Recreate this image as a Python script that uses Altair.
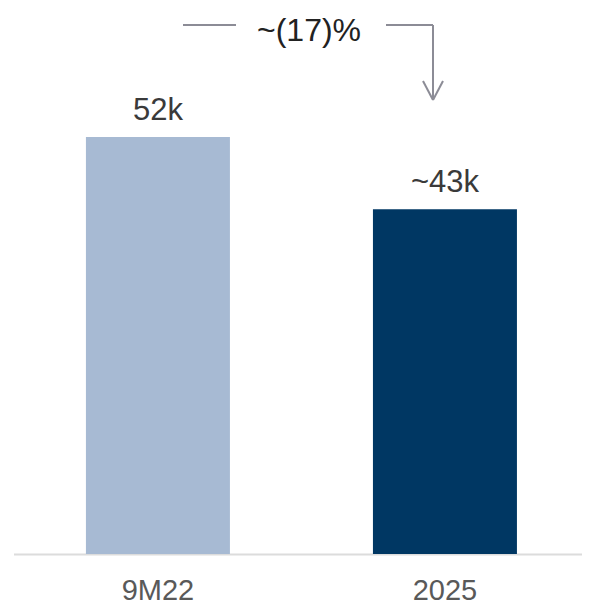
import altair as alt
import pandas as pd

categories = ["9M22", "2025"]
values = [52, 43]
value_labels = ["52k", "~43k"]
bar_colors = ["#a7bad3", "#003763"]
change_label = "~(17)%"

FONT = "Liberation Sans"

df = pd.DataFrame({"cat": categories, "val": values, "lab": value_labels})

x = alt.X("cat:N", sort=categories,
          scale=alt.Scale(paddingInner=0.4983, paddingOuter=0.2491, align=0.545),
          axis=alt.Axis(title=None, ticks=False, domain=False, labelAngle=0, labelFontSize=29,
                        labelFont=FONT, labelColor="#595959", labelPadding=22))
y = alt.Y("val:Q", scale=alt.Scale(domain=[0, 68.1], nice=False, zero=True), axis=None)

bars = alt.Chart(df).mark_bar().encode(
    x=x, y=y,
    color=alt.Color("cat:N", scale=alt.Scale(domain=categories, range=bar_colors), legend=None),
)
labels = alt.Chart(df).mark_text(dy=-17, baseline="alphabetic", fontSize=31, font=FONT,
                                 color="#3a3a3a").encode(x=x, y=y, text="lab:N")

acol = "#8c8c96"
ann = pd.DataFrame({"t": [change_label]})
def seg(x1, y1, x2, y2, color=acol):
    return alt.Chart(ann).mark_rule(color=color, strokeWidth=2).encode(
        x=alt.value(x1), y=alt.value(y1), x2=alt.value(x2), y2=alt.value(y2))

baseline = seg(6, 546.5, 574, 546.5, color="#dcdcdc")
segs = [
    seg(175, 17, 228, 17),
    seg(378, 17, 425, 17),
    seg(425, 17, 425, 91),
    seg(415, 73, 425, 92),
    seg(435, 73, 425, 92),
]
txt = alt.Chart(ann).mark_text(fontSize=32, font=FONT, color="#222222", baseline="alphabetic").encode(
    x=alt.value(301), y=alt.value(33), text="t:N")

chart = alt.layer(baseline, bars, labels, *segs, txt).properties(
    width=574, height=546, padding={"left": 0, "top": 0, "right": 0, "bottom": 51},
    autosize=alt.AutoSizeParams(type="none"),
).configure_view(stroke=None)

chart.save("out.html", embed_options={"renderer": "svg", "actions": False})
